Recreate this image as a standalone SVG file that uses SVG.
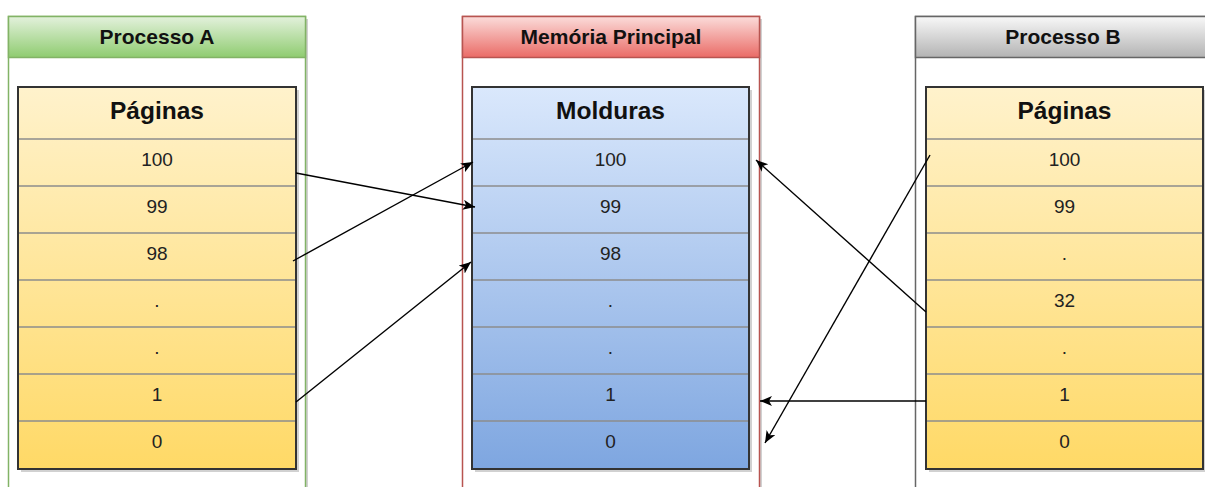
<svg xmlns="http://www.w3.org/2000/svg" width="1205" height="487" viewBox="0 0 1205 487">
  <defs>
    <linearGradient id="gGreen" x1="0" y1="0" x2="0" y2="1">
      <stop offset="0" stop-color="#e3f1dc"/>
      <stop offset="1" stop-color="#8fcc70"/>
    </linearGradient>
    <linearGradient id="gRed" x1="0" y1="0" x2="0" y2="1">
      <stop offset="0" stop-color="#fbdcda"/>
      <stop offset="1" stop-color="#ea6b66"/>
    </linearGradient>
    <linearGradient id="gGrey" x1="0" y1="0" x2="0" y2="1">
      <stop offset="0" stop-color="#f8f8f8"/>
      <stop offset="1" stop-color="#b3b3b3"/>
    </linearGradient>
    <linearGradient id="gYellow" x1="0" y1="0" x2="0" y2="1">
      <stop offset="0" stop-color="#fff2cc"/>
      <stop offset="1" stop-color="#ffd966"/>
    </linearGradient>
    <linearGradient id="gBlue" x1="0" y1="0" x2="0" y2="1">
      <stop offset="0" stop-color="#dae8fc"/>
      <stop offset="1" stop-color="#7ea6e0"/>
    </linearGradient>
    <marker id="arrow" markerUnits="userSpaceOnUse" markerWidth="14" markerHeight="12" refX="12" refY="5" orient="auto">
      <path d="M0,0 L12,5 L0,10 L3,5 Z" fill="#000"/>
    </marker>
  </defs>
  <style>
    .shadow { fill: #000; opacity: 0.18; }
    .body { fill: #fff; }
    .title { font-family: "Liberation Sans", Arial, sans-serif; font-weight: bold; font-size: 21px; fill: #111; text-anchor: middle; }
    .head { font-family: "Liberation Sans", Arial, sans-serif; font-weight: bold; font-size: 24.5px; fill: #111; text-anchor: middle; }
    .cell { font-family: "Liberation Sans", Arial, sans-serif; font-size: 19px; fill: #222; text-anchor: middle; }
    .sep { stroke: #8c8c8c; stroke-width: 1.5; }
    .frame { fill: none; stroke: #333; stroke-width: 2; }
    .link { fill: none; stroke: #000; stroke-width: 1.4; marker-end: url(#arrow); }
  </style>

  <rect width="1205" height="487" fill="#fff"/>

  <!-- Processo A -->
  <g id="processo-a">
    <rect class="shadow" x="11" y="19" width="297" height="500"/>
    <rect class="body" x="8.5" y="16.5" width="297" height="500" stroke="#82b366" stroke-width="1.5"/>
    <rect x="8.5" y="16.5" width="297" height="41" fill="url(#gGreen)" stroke="#82b366" stroke-width="1.5"/>
    <text class="title" x="157" y="44">Processo A</text>
    <g id="paginas-a">
      <rect class="shadow" x="21" y="90" width="278" height="382"/>
      <rect x="18" y="87" width="278" height="382" fill="url(#gYellow)"/>
      <g class="sep">
        <line x1="18" y1="139" x2="296" y2="139"/>
        <line x1="18" y1="186" x2="296" y2="186"/>
        <line x1="18" y1="233" x2="296" y2="233"/>
        <line x1="18" y1="280" x2="296" y2="280"/>
        <line x1="18" y1="327" x2="296" y2="327"/>
        <line x1="18" y1="374" x2="296" y2="374"/>
        <line x1="18" y1="421" x2="296" y2="421"/>
      </g>
      <rect class="frame" x="18" y="87" width="278" height="382"/>
      <text class="head" x="157" y="119">Páginas</text>
      <text class="cell" x="157" y="166">100</text>
      <text class="cell" x="157" y="213">99</text>
      <text class="cell" x="157" y="260">98</text>
      <text class="cell" x="157" y="307">.</text>
      <text class="cell" x="157" y="354">.</text>
      <text class="cell" x="157" y="401">1</text>
      <text class="cell" x="157" y="448">0</text>
    </g>
  </g>

  <!-- Memória Principal -->
  <g id="memoria-principal">
    <rect class="shadow" x="465" y="19" width="297" height="500"/>
    <rect class="body" x="462.5" y="16.5" width="297" height="500" stroke="#b85450" stroke-width="1.5"/>
    <rect x="462.5" y="16.5" width="297" height="41" fill="url(#gRed)" stroke="#b85450" stroke-width="1.5"/>
    <text class="title" x="611" y="44">Memória Principal</text>
    <g id="molduras">
      <rect class="shadow" x="475" y="90" width="277" height="382"/>
      <rect x="472" y="87" width="277" height="382" fill="url(#gBlue)"/>
      <g class="sep">
        <line x1="472" y1="139" x2="749" y2="139"/>
        <line x1="472" y1="186" x2="749" y2="186"/>
        <line x1="472" y1="233" x2="749" y2="233"/>
        <line x1="472" y1="280" x2="749" y2="280"/>
        <line x1="472" y1="327" x2="749" y2="327"/>
        <line x1="472" y1="374" x2="749" y2="374"/>
        <line x1="472" y1="421" x2="749" y2="421"/>
      </g>
      <rect class="frame" x="472" y="87" width="277" height="382" stroke="#2b3a52"/>
      <text class="head" x="610.5" y="119">Molduras</text>
      <text class="cell" x="610.5" y="166">100</text>
      <text class="cell" x="610.5" y="213">99</text>
      <text class="cell" x="610.5" y="260">98</text>
      <text class="cell" x="610.5" y="307">.</text>
      <text class="cell" x="610.5" y="354">.</text>
      <text class="cell" x="610.5" y="401">1</text>
      <text class="cell" x="610.5" y="448">0</text>
    </g>
  </g>

  <!-- Processo B -->
  <g id="processo-b">
    <rect class="shadow" x="918" y="19" width="297" height="500"/>
    <rect class="body" x="915.5" y="16.5" width="297" height="500" stroke="#666" stroke-width="1.5"/>
    <rect x="915.5" y="16.5" width="297" height="41" fill="url(#gGrey)" stroke="#666" stroke-width="1.5"/>
    <text class="title" x="1063" y="44">Processo B</text>
    <g id="paginas-b">
      <rect class="shadow" x="929" y="90" width="277" height="382"/>
      <rect x="926" y="87" width="277" height="382" fill="url(#gYellow)"/>
      <g class="sep">
        <line x1="926" y1="139" x2="1203" y2="139"/>
        <line x1="926" y1="186" x2="1203" y2="186"/>
        <line x1="926" y1="233" x2="1203" y2="233"/>
        <line x1="926" y1="280" x2="1203" y2="280"/>
        <line x1="926" y1="327" x2="1203" y2="327"/>
        <line x1="926" y1="374" x2="1203" y2="374"/>
        <line x1="926" y1="421" x2="1203" y2="421"/>
      </g>
      <rect class="frame" x="926" y="87" width="277" height="382"/>
      <text class="head" x="1064.5" y="119">Páginas</text>
      <text class="cell" x="1064.5" y="166">100</text>
      <text class="cell" x="1064.5" y="213">99</text>
      <text class="cell" x="1064.5" y="260">.</text>
      <text class="cell" x="1064.5" y="307">32</text>
      <text class="cell" x="1064.5" y="354">.</text>
      <text class="cell" x="1064.5" y="401">1</text>
      <text class="cell" x="1064.5" y="448">0</text>
    </g>
  </g>

  <!-- page-to-frame mappings -->
  <g id="connectors">
    <line class="link" x1="296" y1="173" x2="475" y2="207"/>
    <line class="link" x1="293" y1="261" x2="473" y2="162"/>
    <line class="link" x1="296" y1="402" x2="471" y2="262"/>
    <line class="link" x1="926" y1="312" x2="756" y2="160"/>
    <line class="link" x1="930" y1="155" x2="765" y2="443"/>
    <line class="link" x1="926" y1="401" x2="760" y2="401"/>
  </g>
</svg>
